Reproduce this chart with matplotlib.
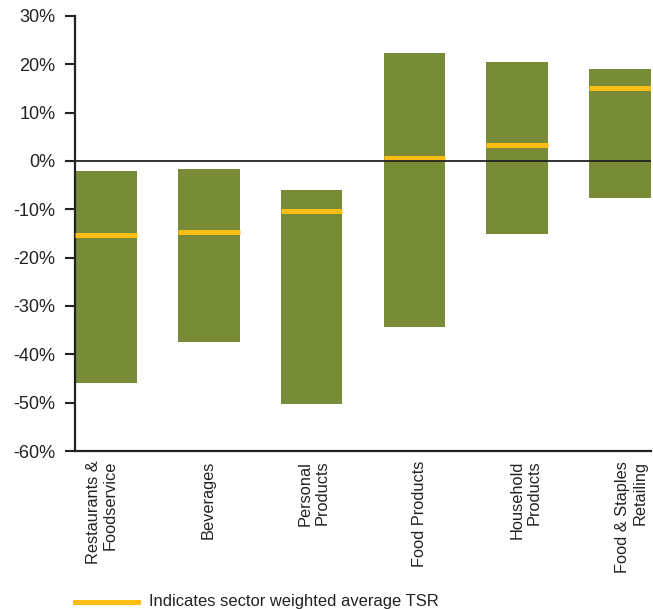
import numpy as np
import matplotlib
matplotlib.use("Agg")
import matplotlib.pyplot as plt
from matplotlib.lines import Line2D

plt.rcParams['font.family'] = ['Liberation Sans', 'DejaVu Sans']

# data (percent TSR)
sectors = ['Restaurants &\nFoodservice', 'Beverages', 'Personal\nProducts',
           'Food Products', 'Household\nProducts', 'Food & Staples\nRetailing']
high = [-2.1, -1.7, -6.0, 22.4, 20.5, 19.0]
low = [-46.0, -37.5, -50.3, -34.4, -15.1, -7.6]
avg = [-15.3, -14.7, -10.4, 0.7, 3.3, 15.1]

green = '#788c38'
yellow = '#fcbe14'

fig = plt.figure(figsize=(6.53, 6.09), dpi=100)
ax = fig.add_axes([0.115, 0.2594, 0.882, 0.7146])

x = np.arange(len(sectors))
w = 0.6
ax.bar(x, np.array(high) - np.array(low), bottom=low, width=w, color=green, zorder=2)
ax.hlines(avg, x - w / 2, x + w / 2, colors=yellow, linewidth=3.6, zorder=3)
ax.axhline(0, color='#222222', linewidth=1.3, zorder=4)

ax.set_xlim(-0.3, 5.3)
ax.set_ylim(-60, 30)
ax.set_yticks(range(-60, 31, 10))
ax.set_yticklabels([f'{v}%' for v in range(-60, 31, 10)], fontsize=13, color='#222222')

# labels drift slightly right of the bars in the original
ax.set_xticks(x * 1.03 - 0.04)
ax.set_xticklabels(sectors, rotation=90, fontsize=11.8, color='#222222',
                   multialignment='right')
ax.tick_params(axis='x', length=0, pad=7)
ax.tick_params(axis='y', length=7, width=1.5, color='#222222', pad=7)

for s in ['top', 'right']:
    ax.spines[s].set_visible(False)
for s in ['left', 'bottom']:
    ax.spines[s].set_linewidth(1.6)
    ax.spines[s].set_color('#222222')

# legend at the bottom
fig.add_artist(Line2D([0.115, 0.211], [0.012, 0.012], color=yellow, linewidth=3.6,
                      transform=fig.transFigure))
fig.text(0.228, 0.012, 'Indicates sector weighted average TSR', fontsize=11.9,
         color='#222222', va='center')

fig.savefig('out.png', dpi=100)
